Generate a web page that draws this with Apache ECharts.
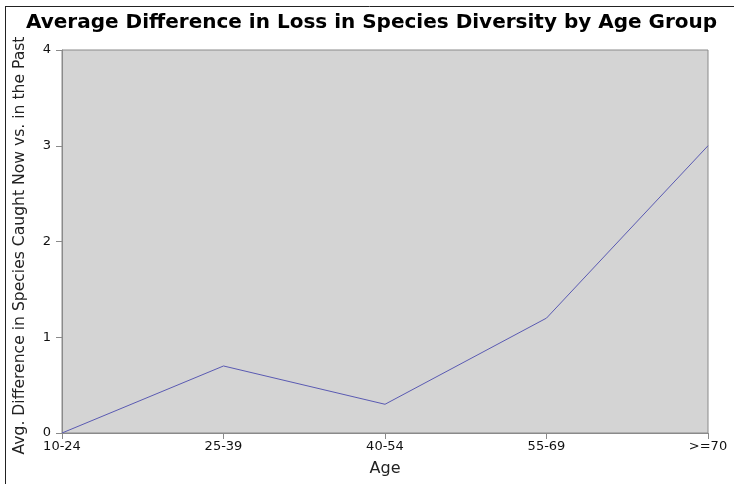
<!DOCTYPE html>
<html><head><meta charset="utf-8">
<script src="https://cdn.jsdelivr.net/npm/echarts@6/dist/echarts.min.js"></script>
<style>html,body{margin:0;padding:0;background:#fff}#c{width:734px;height:484px}</style>
</head><body><div id="c"></div>
<script>
const categories = ['10-24', '25-39', '40-54', '55-69', '>=70'];
const values = [0, 0.7, 0.3, 1.2, 3.0];
const yTicks = [0, 1, 2, 3, 4];

const chart = echarts.init(document.getElementById('c'), null, {renderer: 'canvas'});
const font = 'DejaVu Sans';
chart.setOption({
  animation: false,
  backgroundColor: '#fff',
  title: {
    text: 'Average Difference in Loss in Species Diversity by Age Group',
    left: 26, top: 13, padding: 0, itemGap: 0,
    textStyle: {fontFamily: font, fontWeight: 'bold', fontSize: 20, color: '#000'}
  },
  graphic: [
    {type: 'line', shape: {x1: 5.5, y1: 6, x2: 5.5, y2: 484}, style: {stroke: '#222', lineWidth: 1}},
    {type: 'line', shape: {x1: 5, y1: 6.5, x2: 734, y2: 6.5}, style: {stroke: '#222', lineWidth: 1}}
  ],
  grid: {
    left: 62, right: 26, top: 50, bottom: 51,
    show: true, backgroundColor: '#d4d4d4', borderColor: '#8a8a8a', borderWidth: 1
  },
  xAxis: {
    type: 'category', data: categories, boundaryGap: false,
    name: 'Age', nameLocation: 'middle', nameGap: 28,
    nameTextStyle: {fontFamily: font, fontSize: 16, color: '#222'},
    axisLine: {lineStyle: {color: '#8a8a8a'}},
    axisTick: {show: true, length: 6, lineStyle: {color: '#8a8a8a'}},
    axisLabel: {fontFamily: font, fontSize: 13, color: '#111', margin: 7},
    splitLine: {show: false}
  },
  yAxis: {
    type: 'value', min: 0, max: 4, interval: 1,
    name: 'Avg. Difference in Species Caught Now vs. in the Past',
    nameLocation: 'middle', nameGap: 34,
    nameTextStyle: {fontFamily: font, fontSize: 15.6, color: '#222', padding: [0, 8, 0, 0]},
    axisLine: {show: true, lineStyle: {color: '#8a8a8a'}},
    axisTick: {show: true, length: 6, lineStyle: {color: '#8a8a8a'}},
    axisLabel: {fontFamily: font, fontSize: 13, color: '#111', margin: 11,
      formatter: v => yTicks.includes(v) ? String(v) : ''},
    splitLine: {show: false}
  },
  series: [{
    type: 'line', data: values, symbol: 'none',
    lineStyle: {color: '#5a5ab2', width: 1}
  }]
});
</script></body></html>
